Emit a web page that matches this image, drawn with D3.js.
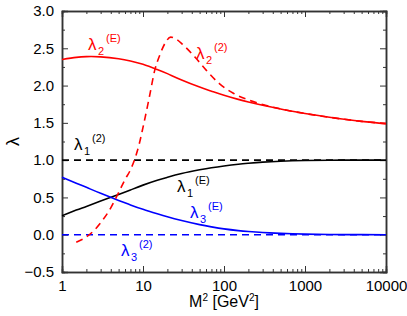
<!DOCTYPE html>
<html>
<head>
<meta charset="utf-8">
<script src="https://cdn.jsdelivr.net/npm/d3@7"></script>
<style>
  body { margin: 0; background: #fff; }
  text { font-family: "Liberation Sans", Arial, sans-serif; }
</style>
</head>
<body>
<script>
// M^2 grid for the curves
var m2 = [1, 1.5, 2, 3, 5, 7, 10, 15, 20, 30, 50, 70, 100, 150, 200, 300, 500, 700, 1000, 2000, 5000, 10000];
// lambda_2^(E), red solid
var lam2E = [2.35, 2.378, 2.388, 2.385, 2.36, 2.33, 2.285, 2.215, 2.16, 2.075, 1.98, 1.925, 1.87, 1.815, 1.78, 1.735, 1.685, 1.655, 1.625, 1.575, 1.52, 1.49];
// lambda_1^(E), black solid
var lam1E = [0.255, 0.33, 0.38, 0.452, 0.54, 0.60, 0.665, 0.73, 0.77, 0.82, 0.87, 0.898, 0.922, 0.945, 0.958, 0.973, 0.986, 0.992, 0.996, 0.999, 1.0, 1.0];
// lambda_3^(E), blue solid
var lam3E = [0.77, 0.69, 0.635, 0.555, 0.46, 0.40, 0.34, 0.28, 0.24, 0.19, 0.135, 0.105, 0.078, 0.055, 0.043, 0.03, 0.018, 0.012, 0.008, 0.003, 0.001, 0.0];
// lambda_2^(2), red dashed
var m2d = [1.5, 2, 2.5, 3, 4, 5, 6, 7, 8, 9, 10, 12, 14, 16, 19, 22, 26, 31, 44, 61, 89, 129, 208, 300, 500, 700, 1000, 2000, 5000, 10000];
var lam2d = [-0.10, -0.03, 0.06, 0.16, 0.36, 0.565, 0.74, 0.87, 1.03, 1.22, 1.44, 1.85, 2.21, 2.40, 2.58, 2.65, 2.62, 2.55, 2.38, 2.20, 2.02, 1.90, 1.80, 1.745, 1.688, 1.655, 1.625, 1.575, 1.52, 1.49];
// constant two-loop values
var lam1two = 1.0, lam3two = 0.0;

var xTicks = [1, 10, 100, 1000, 10000];
var yTicks = [-0.5, 0, 0.5, 1.0, 1.5, 2.0, 2.5, 3.0];

var margin = {top: 11, right: 21, bottom: 44, left: 62},
    width = 407 - margin.left - margin.right,
    height = 316 - margin.top - margin.bottom;

var svg = d3.select("body").append("svg")
    .attr("width", 407)
    .attr("height", 316)
  .append("g")
    .attr("transform", "translate(" + margin.left + "," + margin.top + ")");

var x = d3.scaleLog().domain([1, 10000]).range([0, width]);
var y = d3.scaleLinear().domain([-0.5, 3]).range([height, 0]);

// minor ticks
var xMinor = [];
for (var e = 0; e < 4; e++) for (var k = 2; k < 10; k++) xMinor.push(k * Math.pow(10, e));
var yMinor = d3.range(-0.25, 3, 0.5);

function styleAxis(g) {
  g.selectAll("path").attr("stroke", "#333").attr("stroke-width", 1.5);
  g.selectAll("line").attr("stroke", "#333").attr("stroke-width", 1);
  g.selectAll("text").attr("fill", "#000").style("font-size", "15px");
}

svg.append("g").attr("transform", "translate(0," + height + ")")
  .call(d3.axisBottom(x).tickValues(xTicks).tickSize(-6).tickPadding(8).tickFormat(d3.format("d")))
  .call(styleAxis);
svg.append("g").attr("transform", "translate(0," + height + ")")
  .call(d3.axisBottom(x).tickValues(xMinor).tickSize(-3).tickFormat(""))
  .call(styleAxis);
svg.append("g")
  .call(d3.axisTop(x).tickValues(xTicks).tickSize(-6).tickFormat(""))
  .call(styleAxis);
svg.append("g")
  .call(d3.axisTop(x).tickValues(xMinor).tickSize(-3).tickFormat(""))
  .call(styleAxis);
svg.append("g")
  .call(d3.axisLeft(y).tickValues(yTicks).tickSize(-6).tickPadding(8).tickFormat(d3.format(".1f")))
  .call(styleAxis);
svg.append("g")
  .call(d3.axisLeft(y).tickValues(yMinor).tickSize(-3).tickFormat(""))
  .call(styleAxis);
svg.append("g").attr("transform", "translate(" + width + ",0)")
  .call(d3.axisRight(y).tickValues(yTicks).tickSize(-6).tickFormat(""))
  .call(styleAxis);
svg.append("g").attr("transform", "translate(" + width + ",0)")
  .call(d3.axisRight(y).tickValues(yMinor).tickSize(-3).tickFormat(""))
  .call(styleAxis);

// curves
function addLine(xs, ys, color, dash, curve) {
  var line = d3.line()
      .x(function(d) { return x(d[0]); })
      .y(function(d) { return y(d[1]); })
      .curve(curve || d3.curveNatural);
  svg.append("path")
    .datum(d3.zip(xs, ys))
    .attr("fill", "none")
    .attr("stroke", color)
    .attr("stroke-width", 1.6)
    .attr("stroke-dasharray", dash || null)
    .attr("d", line);
}

addLine([1, 10000], [lam1two, lam1two], "#000", "7,5", d3.curveLinear);
addLine([1, 10000], [lam3two, lam3two], "#0000ff", "7,5", d3.curveLinear);
addLine(m2, lam1E, "#000");
addLine(m2, lam3E, "#0000ff");
addLine(m2, lam2E, "#ff0000");
addLine(m2d, lam2d, "#ff0000", "7,5", d3.curveMonotoneX);

// curve labels: lambda with subscript and superscript
function label(lx, ly, sub, sup, color) {
  var g = svg.append("g").attr("fill", color);
  g.append("text").attr("x", lx - margin.left).attr("y", ly - margin.top)
    .style("font-size", "17px").text("\u03bb");
  g.append("text").attr("x", lx - margin.left + 10).attr("y", ly - margin.top + 5)
    .style("font-size", "11px").text(sub);
  g.append("text").attr("x", lx - margin.left + 18).attr("y", ly - margin.top - 8)
    .style("font-size", "11px").text(sup);
}
label(88, 50, "2", "(E)", "#ff0000");
label(196, 59, "2", "(2)", "#ff0000");
label(74, 150, "1", "(2)", "#000");
label(177, 192, "1", "(E)", "#000");
label(190, 218, "3", "(E)", "#0000ff");
label(121, 256, "3", "(2)", "#0000ff");

// axis titles
svg.append("text")
  .attr("transform", "translate(" + (19 - margin.left) + "," + (height / 2) + ") rotate(-90)")
  .attr("text-anchor", "middle")
  .style("font-size", "18px")
  .text("\u03bb");

var xt = svg.append("text")
  .attr("x", width / 2)
  .attr("y", 307 - margin.top)
  .attr("text-anchor", "middle")
  .style("font-size", "16px");
xt.append("tspan").text("M");
xt.append("tspan").attr("dy", -6).style("font-size", "10px").text("2");
xt.append("tspan").attr("dy", 6).text(" [GeV");
xt.append("tspan").attr("dy", -6).style("font-size", "10px").text("2");
xt.append("tspan").attr("dy", 6).text("]");
</script>
</body>
</html>
